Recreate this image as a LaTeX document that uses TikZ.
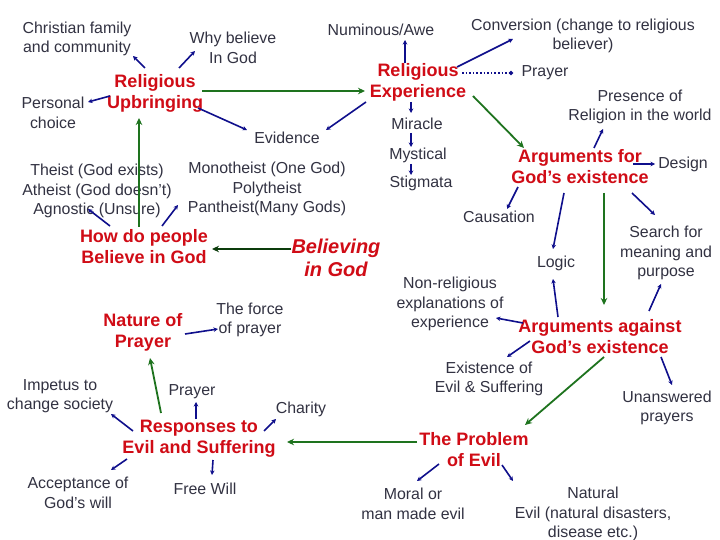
\documentclass[tikz,border=0pt]{standalone}
\usepackage{fontspec}
\setmainfont{Liberation Sans}
\usetikzlibrary{calc,arrows.meta}
\definecolor{txt}{RGB}{50,50,66}
\definecolor{hub}{RGB}{208,12,22}
\definecolor{lnblue}{RGB}{15,15,140}
\definecolor{lngreen}{RGB}{30,115,30}
\definecolor{lndgreen}{RGB}{12,60,12}
\tikzset{
  leaf/.style={inner sep=0pt, align=center, text=txt, font=\fontsize{15.9}{19.5}\selectfont},
  hubnode/.style={inner sep=0pt, align=center, text=hub, font=\fontsize{18}{21}\selectfont\bfseries},
  bignode/.style={inner sep=0pt, align=center, text=hub, font=\fontsize{20}{23.5}\selectfont\bfseries\itshape},
  bl/.style={draw=lnblue, line width=1.6pt, -{Stealth[length=4.5pt,width=4.5pt]}},
  dotl/.style={draw=lnblue, line width=1.6pt, dotted, -{Circle[length=4pt]}},
  gr/.style={draw=lngreen, line width=1.8pt, -{Stealth[length=7pt,width=6.5pt]}},
  dgr/.style={draw=lndgreen, line width=1.8pt, -{Stealth[length=7pt,width=6.5pt]}}
}
\begin{document}
\begin{tikzpicture}[x=1pt,y=-1pt]
\useasboundingbox[fill=white] (0,0) rectangle (720,540);
\begin{scope}[yshift=-2pt]
% hubs
\node[hubnode] (ru) at (155,91) {Religious\\Upbringing};
\node[hubnode] (re) at (418,80) {Religious\\Experience};
\node[hubnode] (af) at (580,165) {Arguments for\\God’s existence};
\node[hubnode] (hd) at (144,245) {How do people\\Believe in God};
\node[bignode] (bg) at (336,256) {Believing\\in God};
\node[hubnode] (np) at (143,330) {Nature of\\Prayer};
\node[hubnode] (ag) at (600,335) {Arguments against\\God’s existence};
\node[hubnode] (rs) at (199,437) {Responses to\\Evil and Suffering};
\node[hubnode] (pe) at (474,448) {The Problem\\of Evil};
% leaves
\node[leaf] (cf) at (77,37) {Christian family\\and community};
\node[leaf] (wb) at (233,46) {Why believe\\In God};
\node[leaf] (pc) at (53,111) {Personal\\choice};
\node[leaf] (nu) at (381,28) {Numinous/Awe};
\node[leaf] (cv) at (583,34) {Conversion (change to religious\\believer)};
\node[leaf] (pra) at (545,71) {Prayer};
\node[leaf] (prw) at (640,105) {Presence of\\Religion in the world};
\node[leaf] (mi) at (417,122) {Miracle};
\node[leaf] (ev) at (287,136) {Evidence};
\node[leaf] (my) at (418,153) {Mystical};
\node[leaf] (st) at (421,181) {Stigmata};
\node[leaf] (de) at (683,162) {Design};
\node[leaf] (th) at (97,189) {Theist (God exists)\\Atheist (God doesn’t)\\Agnostic (Unsure)};
\node[leaf] (mo) at (267,187) {Monotheist (One God)\\Polytheist\\Pantheist(Many Gods)};
\node[leaf] (ca) at (499,215) {Causation};
\node[leaf] (se) at (666,251) {Search for\\meaning and\\purpose};
\node[leaf] (lo) at (556,261) {Logic};
\node[leaf] (nr) at (450,302) {Non-religious\\explanations of\\experience};
\node[leaf] (fp) at (250,318) {The force\\of prayer};
\node[leaf] (ee) at (489,377) {Existence of\\Evil \& Suffering};
\node[leaf] (im) at (60,394) {Impetus to\\change society};
\node[leaf] (prb) at (192,390) {Prayer};
\node[leaf] (ch) at (301,407) {Charity};
\node[leaf] (ua) at (667,406) {Unanswered\\prayers};
\node[leaf] (ac) at (78,491) {Acceptance of\\God’s will};
\node[leaf] (fw) at (205,487) {Free Will};
\node[leaf] (mme) at (413,502) {Moral or\\man made evil};
\node[leaf] (na) at (593,512) {Natural\\Evil (natural disasters,\\disease etc.)};
% blue connectors
\draw[bl] ($(ru)+(-10,-25)$) -- ($(cf)+(56,17)$);
\draw[bl] ($(ru)+(24,-25)$) -- ($(wb)+(-38,3)$);
\draw[bl] ($(ru)+(-45,3)$) -- ($(pc)+(35,-11)$);
\draw[bl] ($(ru)+(43,15)$) -- ($(ev)+(-40,-8)$);
\draw[bl] ($(re)+(-52,20)$) -- ($(ev)+(39,-8)$);
\draw[bl] ($(re)+(-13,-19)$) -- ($(nu)+(24,10)$);
\draw[bl] ($(re)+(39,-15)$) -- ($(cv)+(-70,3)$);
\draw[dotl] ($(re)+(44,-9)$) -- ($(pra)+(-32,0)$);
\draw[bl] ($(re)+(-7,20)$) -- ($(mi)+(-6,-11)$);
\draw[bl] ($(mi)+(-6,9)$) -- ($(my)+(-7,-8)$);
\draw[bl] ($(my)+(-7,9)$) -- ($(st)+(-10,-8)$);
\draw[bl] ($(af)+(14,-19)$) -- ($(prw)+(-37,22)$);
\draw[bl] ($(af)+(53,-3)$) -- ($(de)+(-28,0)$);
\draw[bl] ($(af)+(-62,20)$) -- ($(ca)+(8,-8)$);
\draw[bl] ($(af)+(-16,26)$) -- ($(lo)+(-3,-14)$);
\draw[bl] ($(af)+(52,26)$) -- ($(se)+(-11,-38)$);
\draw[bl] ($(ag)+(-42,-20)$) -- ($(lo)+(-3,16)$);
\draw[bl] ($(ag)+(-77,-14)$) -- ($(nr)+(46,14)$);
\draw[bl] ($(ag)+(-70,4)$) -- ($(ee)+(18,-22)$);
\draw[bl] ($(ag)+(49,-26)$) -- ($(se)+(-5,31)$);
\draw[bl] ($(ag)+(61,20)$) -- ($(ua)+(5,-23)$);
\draw[bl] ($(pe)+(-35,14)$) -- ($(mme)+(4,-23)$);
\draw[bl] ($(pe)+(28,15)$) -- ($(na)+(-80,-33)$);
\draw[bl] ($(rs)+(-66,-8)$) -- ($(im)+(51,18)$);
\draw[bl] ($(rs)+(-3,-20)$) -- ($(prb)+(4,10)$);
\draw[bl] ($(rs)+(65,-8)$) -- ($(ch)+(-25,10)$);
\draw[bl] ($(rs)+(-72,20)$) -- ($(ac)+(33,-23)$);
\draw[bl] ($(rs)+(14,21)$) -- ($(fw)+(7,-14)$);
\draw[bl] ($(hd)+(-34,-21)$) -- ($(th)+(-9,18)$);
\draw[bl] ($(hd)+(18,-21)$) -- ($(mo)+(-89,16)$);
\draw[bl] ($(np)+(42,2)$) -- ($(fp)+(-32,9)$);
% green connectors
\draw[gr] ($(ru)+(47,-2)$) -- ($(re)+(-53,9)$);
\draw[gr] ($(hd)+(-5,-20)$) -- ($(ru)+(-16,25)$);
\draw[gr] ($(re)+(55,14)$) -- ($(af)+(-56,-19)$);
\draw[gr] ($(af)+(24,26)$) -- ($(ag)+(4,-32)$);
\draw[gr] ($(ag)+(4,20)$) -- ($(pe)+(51,-25)$);
\draw[gr] ($(pe)+(-57,-8)$) -- ($(rs)+(88,3)$);
\draw[gr] ($(rs)+(-38,-26)$) -- ($(np)+(7,26)$);
\draw[dgr] ($(bg)+(-45,-9)$) -- ($(hd)+(68,2)$);
\end{scope}
\end{tikzpicture}
\end{document}
